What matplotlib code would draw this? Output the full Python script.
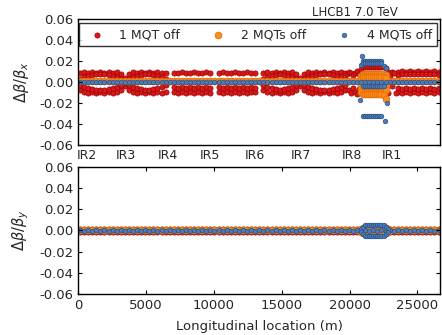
import numpy as np
import matplotlib
matplotlib.use("Agg")
import matplotlib.pyplot as plt

nan = np.nan

# BPM locations (m) used for the arc data
s_bpm = [150, 450, 750, 1050, 1350, 1650, 1950, 2250, 2550, 2850,
         3150, 3450, 3750, 4050, 4350, 4650, 4950, 5250, 5550, 5850,
         6150, 6450, 6750, 7050, 7350, 7650, 7950, 8250, 8550, 8850,
         9150, 9450, 9750, 10050, 10350, 10650, 10950, 11250, 11550, 11850,
         12150, 12450, 12750, 13050, 13350, 13650, 13950, 14250, 14550, 14850,
         15150, 15450, 15750, 16050, 16350, 16650, 16950, 17250, 17550, 17850,
         18150, 18450, 18750, 19050, 19350, 19650, 19950, 20250, 20550, 20850,
         21150, 21450, 21750, 22050, 22350, 22650, 22950, 23250, 23550, 23850,
         24150, 24450, 24750, 25050, 25350, 25650, 25950, 26250, 26550]

# --- horizontal beta-beating, units of 1e-3 ---
# 1 MQT off
red_top_x = [9, 10, 9, 10, 9, 10, 9, 10, 9, 10,
             8, 4, 8, 10, 9, 10, 9, 10, 9, 10,
             9, 9, nan, 9, 9, 10, 9, 9, 10, 9,
             9, 10, 9, nan, 9, 10, 9, 9, 10, 9,
             9, 10, 9, 9, nan, 9, 10, 9, 10, 9,
             10, 9, 10, 8, 4, 8, 10, 9, 10, 9,
             10, 9, 10, 9, 10, 9, nan, nan, nan, nan,
             nan, nan, nan, nan, nan, nan, nan, nan, 10, 11,
             10, 11, 10, 11, 10, 11, 10, 11, 10]
red_bot_x = [-8, -9, -10, -9, -10, -9, -10, -9, -10, -9,
             -8, -4, -8, -9, -10, -9, -10, -9, -10, -9,
             -10, -9, nan, -9, -10, -9, -10, -9, -10, -9,
             -10, -9, -10, nan, -9, -10, -9, -10, -9, -10,
             -9, -10, -9, -9, nan, -8, -9, -10, -9, -10,
             -9, -10, -9, -8, -4, -8, -9, -10, -9, -10,
             -9, -10, -9, -10, -9, -8, nan, nan, nan, nan,
             nan, nan, nan, nan, nan, nan, nan, nan, -9, -10,
             -9, -10, -9, -10, -9, -10, -9, -10, -9]
red_iu_x = [3, 5, 6, 7, 8, 8, 8, 7, 6, 5,
            3, 1, 3, 5, 6, 7, 8, 8, 7, 6,
            5, 3, nan, nan, nan, nan, nan, nan, nan, nan,
            nan, nan, nan, nan, nan, nan, nan, nan, nan, nan,
            nan, nan, nan, nan, nan, 3, 5, 6, 7, 8,
            7, 6, 5, 3, 1, 3, 5, 6, 7, 8,
            8, 8, 7, 6, 5, 3, nan, nan, nan, nan,
            nan, nan, nan, nan, nan, nan, nan, nan, 7, 8,
            8, 8, 8, 8, 8, 8, 8, 8, 7]
red_il_x = [-3, -5, -6, -7, -8, -8, -8, -7, -6, -5,
            -3, -1, -3, -5, -6, -7, -8, -8, -7, -6,
            -5, -3, nan, -5, -6, -5, -6, -5, -6, -5,
            -6, -5, -6, nan, -5, -6, -5, -6, -5, -6,
            -5, -6, -5, -6, nan, -3, -5, -6, -7, -8,
            -7, -6, -5, -3, -1, -3, -5, -6, -7, -8,
            -8, -8, -7, -6, -5, -3, nan, nan, nan, nan,
            nan, nan, nan, nan, nan, nan, nan, nan, -6, -7,
            -6, -7, -6, -7, -6, -7, -6, -7, -6]
red_sc_s = [19800, 19950, 20100, 20250, 20400, 20550, 20700, 19950, 20100, 20250,
            20400, 20550, 20700, 22800, 22950, 23100, 23250, 22800, 23100, 23400]
red_sc_x = [8, 10, 9, 7, 9, 11, 8, -8, -10, -6,
            -9, -11, -7, 10, 6, 10, 9, -10, -4, -10]

# 2 MQTs off
orange_x = [1.2, 1.2, 1.2, 1.2, 1.2, 1.2, 1.2, 1.2, 1.2, 1.2,
            1.2, 1.2, 1.2, 1.2, 1.2, 1.2, 1.2, 1.2, 1.2, 1.2,
            1.2, 1.2, 1.2, 1.2, 1.2, 1.2, 1.2, 1.2, 1.2, 1.2,
            1.2, 1.2, 1.2, 1.2, 1.2, 1.2, 1.2, 1.2, 1.2, 1.2,
            1.2, 1.2, 1.2, 1.2, 1.2, 1.2, 1.2, 1.2, 1.2, 1.2,
            1.2, 1.2, 1.2, 1.2, 1.2, 1.2, 1.2, 1.2, 1.2, 1.2,
            1.2, 1.2, 1.2, 1.2, 1.2, 1.2, 1.2, 1.2, 1.2, 1.2,
            1.2, 1.2, 1.2, 1.2, 1.2, 1.2, 1.2, 1.2, 1.2, 1.2,
            1.2, 1.2, 1.2, 1.2, 1.2, 1.2, 1.2, 1.2, 1.2]

# 4 MQTs off
blue_x = [0.5, 0.3, 0.5, 0.3, 0.5, 0.3, 0.5, 0.3, 0.5, 0.3,
          0.5, 0.3, 0.5, 0.3, 0.5, 0.3, 0.5, 0.3, 0.5, 0.3,
          0.5, 0.3, 0.5, 0.3, 0.5, 0.3, 0.5, 0.3, 0.5, 0.3,
          0.5, 0.3, 0.5, 0.3, 0.5, 0.3, 0.5, 0.3, 0.5, 0.3,
          0.5, 0.3, 0.5, 0.3, 0.5, 0.3, 0.5, 0.3, 0.5, 0.3,
          0.5, 0.3, 0.5, 0.3, 0.5, 0.3, 0.5, 0.3, 0.5, 0.3,
          0.5, 0.3, 0.5, 0.3, 0.5, 0.3, 0.5, 0.3, 0.5, 0.3,
          0.5, 0.3, 0.5, 0.3, 0.5, 0.3, 0.5, 0.3, 0.5, 0.3,
          0.5, 0.3, 0.5, 0.3, 0.5, 0.3, 0.5, 0.3, 0.5]

# IR8 - IR1 insertion, finer BPM spacing
s_ir = [20850, 21000, 21150, 21300, 21450, 21600, 21750,
        21900, 22050, 22200, 22350, 22500, 22650, 22800]
red_ir_x = [12, 14, 14, 14, 14, 14, 14, 14, 14, 14, 14, 14, 13, nan]
orange_ir_a = [6, 8, 8, 8, 8, 8, 8, 8, 8, 8, 8, 8, 7, nan]
orange_ir_b = [3, 5, 5, 5, 5, 5, 5, 5, 5, 5, 5, 5, 4, nan]
orange_ir_c = [-4, -6, -6, -6, -6, -6, -6, -6, -6, -6, -6, -6, -5, nan]
orange_ir_d = [-7, -9, -9, -9, -9, -9, -9, -9, -9, -9, -9, -9, -8, nan]
orange_ir_e = [-9, -11, -11, -11, -11, -11, -11, -11, -11, -11, -11, -12, -16, nan]
blue_ir_a = [nan, 20, 20, 20, 20, 20, 20, 20, 20, 20, 20, nan, nan, nan]
blue_ir_b = [16, 18, 18, 18, 18, 18, 18, 18, 18, 18, 18, 15, nan, nan]
blue_ir_c = [nan, -32, -32, -32, -32, -32, -32, -32, -32, -32, -32, nan, nan, nan]
blue_ir_d = [nan, -4, -4, -4, -4, -4, -4, -4, -4, -4, -4, -4, nan, nan]
blue_sc_s = [20950, 20800, 22600, 22750, 22700]
blue_sc_x = [25, -17, -37, -20, 13]

# --- vertical beta-beating, units of 1e-3 ---
red_up_y = [1.5, 1, 1.5, 1, 1.5, 1, 1.5, 1, 1.5, 1,
            1.5, 1, 1.5, 1, 1.5, 1, 1.5, 1, 1.5, 1,
            1.5, 1, 1.5, 1, 1.5, 1, 1.5, 1, 1.5, 1,
            1.5, 1, 1.5, 1, 1.5, 1, 1.5, 1, 1.5, 1,
            1.5, 1, 1.5, 1, 1.5, 1, 1.5, 1, 1.5, 1,
            1.5, 1, 1.5, 1, 1.5, 1, 1.5, 1, 1.5, 1,
            1.5, 1, 1.5, 1, 1.5, 1, 1.5, 1, 1.5, 1,
            1.5, 1, 1.5, 1, 1.5, 1, 1.5, 1, 1.5, 1,
            1.5, 1, 1.5, 1, 1.5, 1, 1.5, 1, 1.5]
red_lo_y = [-1, -1.5, -1, -1.5, -1, -1.5, -1, -1.5, -1, -1.5,
            -1, -1.5, -1, -1.5, -1, -1.5, -1, -1.5, -1, -1.5,
            -1, -1.5, -1, -1.5, -1, -1.5, -1, -1.5, -1, -1.5,
            -1, -1.5, -1, -1.5, -1, -1.5, -1, -1.5, -1, -1.5,
            -1, -1.5, -1, -1.5, -1, -1.5, -1, -1.5, -1, -1.5,
            -1, -1.5, -1, -1.5, -1, -1.5, -1, -1.5, -1, -1.5,
            -1, -1.5, -1, -1.5, -1, -1.5, -1, -1.5, -1, -1.5,
            -1, -1.5, -1, -1.5, -1, -1.5, -1, -1.5, -1, -1.5,
            -1, -1.5, -1, -1.5, -1, -1.5, -1, -1.5, -1]
orange_y = [0.5, 0.5, 0.5, 0.5, 0.5, 0.5, 0.5, 0.5, 0.5, 0.5,
            0.5, 0.5, 0.5, 0.5, 0.5, 0.5, 0.5, 0.5, 0.5, 0.5,
            0.5, 0.5, 0.5, 0.5, 0.5, 0.5, 0.5, 0.5, 0.5, 0.5,
            0.5, 0.5, 0.5, 0.5, 0.5, 0.5, 0.5, 0.5, 0.5, 0.5,
            0.5, 0.5, 0.5, 0.5, 0.5, 0.5, 0.5, 0.5, 0.5, 0.5,
            0.5, 0.5, 0.5, 0.5, 0.5, 0.5, 0.5, 0.5, 0.5, 0.5,
            0.5, 0.5, 0.5, 0.5, 0.5, 0.5, 0.5, 0.5, 0.5, 0.5,
            0.5, 0.5, 0.5, 0.5, 0.5, 0.5, 0.5, 0.5, 0.5, 0.5,
            0.5, 0.5, 0.5, 0.5, 0.5, 0.5, 0.5, 0.5, 0.5]
blue_y = [0.1, -0.1, 0.1, -0.1, 0.1, -0.1, 0.1, -0.1, 0.1, -0.1,
          0.1, -0.1, 0.1, -0.1, 0.1, -0.1, 0.1, -0.1, 0.1, -0.1,
          0.1, -0.1, 0.1, -0.1, 0.1, -0.1, 0.1, -0.1, 0.1, -0.1,
          0.1, -0.1, 0.1, -0.1, 0.1, -0.1, 0.1, -0.1, 0.1, -0.1,
          0.1, -0.1, 0.1, -0.1, 0.1, -0.1, 0.1, -0.1, 0.1, -0.1,
          0.1, -0.1, 0.1, -0.1, 0.1, -0.1, 0.1, -0.1, 0.1, -0.1,
          0.1, -0.1, 0.1, -0.1, 0.1, -0.1, 0.1, -0.1, 0.1, -0.1,
          0.1, -0.1, 0.1, -0.1, 0.1, -0.1, 0.1, -0.1, 0.1, -0.1,
          0.1, -0.1, 0.1, -0.1, 0.1, -0.1, 0.1, -0.1, 0.1]
orange_ir_yhi = [1, 2, 3, 3, 3, 3, 3, 3, 3, 3, 3, 3, 2, 1]
orange_ir_ylo = [-1, -2, -3, -3, -3, -3, -3, -3, -3, -3, -3, -3, -2, -1]
blue_ir_yhi = [1, 3, 5, 5, 5, 5, 5, 5, 5, 5, 5, 5, 3, 1]
blue_ir_ylo = [-1, -3, -5, -5, -5, -5, -5, -5, -5, -5, -5, -5, -3, -1]

ir_names = ["IR2", "IR3", "IR4", "IR5", "IR6", "IR7", "IR8", "IR1"]
ir_pos = [660, 3540, 6640, 9730, 13050, 16450, 20200, 23150]

# marker styles
RED = dict(s=14, c="#d7191c", edgecolors="#9e0000", linewidths=0.5)
ORANGE = dict(s=24, c="#ff8a1c", edgecolors="#e06a00", linewidths=0.5)
BLUE = dict(s=11, c="#4b7bb8", edgecolors="#2c5285", linewidths=0.5)


def dots(ax, s, v, style, label=None):
    ax.scatter(s, np.asarray(v, dtype=float) * 1e-3, label=label, **style)


fig = plt.figure(figsize=(4.42, 3.35), dpi=100)
ax1 = fig.add_axes([0.1765, 0.567, 0.819, 0.376])
ax2 = fig.add_axes([0.1765, 0.1224, 0.819, 0.3791])

# top: horizontal
dots(ax1, s_bpm, red_top_x, RED, "1 MQT off")
dots(ax1, s_bpm, red_bot_x, RED)
dots(ax1, s_bpm, red_iu_x, RED)
dots(ax1, s_bpm, red_il_x, RED)
dots(ax1, red_sc_s, red_sc_x, RED)
dots(ax1, s_ir, red_ir_x, RED)
dots(ax1, s_bpm, orange_x, ORANGE, "2 MQTs off")
for row in [orange_ir_a, orange_ir_b, orange_ir_c, orange_ir_d, orange_ir_e]:
    dots(ax1, s_ir, row, ORANGE)
dots(ax1, s_bpm, blue_x, BLUE, "4 MQTs off")
for row in [blue_ir_a, blue_ir_b, blue_ir_c, blue_ir_d]:
    dots(ax1, s_ir, row, BLUE)
dots(ax1, blue_sc_s, blue_sc_x, BLUE)

# bottom: vertical
dots(ax2, s_bpm, red_up_y, RED)
dots(ax2, s_bpm, red_lo_y, RED)
dots(ax2, s_bpm, orange_y, ORANGE)
dots(ax2, s_ir, orange_ir_yhi, ORANGE)
dots(ax2, s_ir, orange_ir_ylo, ORANGE)
dots(ax2, s_bpm, blue_y, BLUE)
dots(ax2, s_ir, blue_ir_yhi, BLUE)
dots(ax2, s_ir, blue_ir_ylo, BLUE)

yt = [-0.06, -0.04, -0.02, 0.0, 0.02, 0.04, 0.06]
for ax in (ax1, ax2):
    ax.set_xlim(0, 26659)
    ax.set_ylim(-0.06, 0.06)
    ax.set_yticks(yt)
    ax.set_yticklabels(["%.2f" % v for v in yt])
    ax.tick_params(axis="both", direction="in", labelsize=9.5, length=3,
                   right=True, top=True, labelcolor="0.15", width=0.8)
    for sp in ax.spines.values():
        sp.set_linewidth(1.0)

ax1.set_xticks(ir_pos)
ax1.set_xticklabels(ir_names)
ax1.tick_params(axis="x", length=0, pad=3, top=False, labelsize=9)
ax2.set_xticks([0, 5000, 10000, 15000, 20000, 25000])
ax2.set_xticklabels(["0", "5000", "10000", "15000", "20000", "25000"])

ax1.set_ylabel(r"$\Delta\beta/\beta_x$", fontsize=10.5, color="0.15", labelpad=6)
ax2.set_ylabel(r"$\Delta\beta/\beta_y$", fontsize=10.5, color="0.15", labelpad=6)
ax2.set_xlabel("Longitudinal location (m)", fontsize=9.5, color="0.15", labelpad=6)

fig.text(0.9, 0.964, "LHCB1 7.0 TeV", ha="right", va="center", fontsize=8.5,
         color="0.15")

leg = ax1.legend(loc="center", bbox_to_anchor=(0.003, 0.794, 0.989, 0.166),
                 mode="expand", ncol=3, fontsize=9, fancybox=False,
                 borderaxespad=0, handletextpad=0.8, scatterpoints=1)
leg.get_frame().set_edgecolor("black")
leg.get_frame().set_linewidth(1.0)
for t in leg.get_texts():
    t.set_color("0.15")

fig.savefig("out.png", dpi=100)
